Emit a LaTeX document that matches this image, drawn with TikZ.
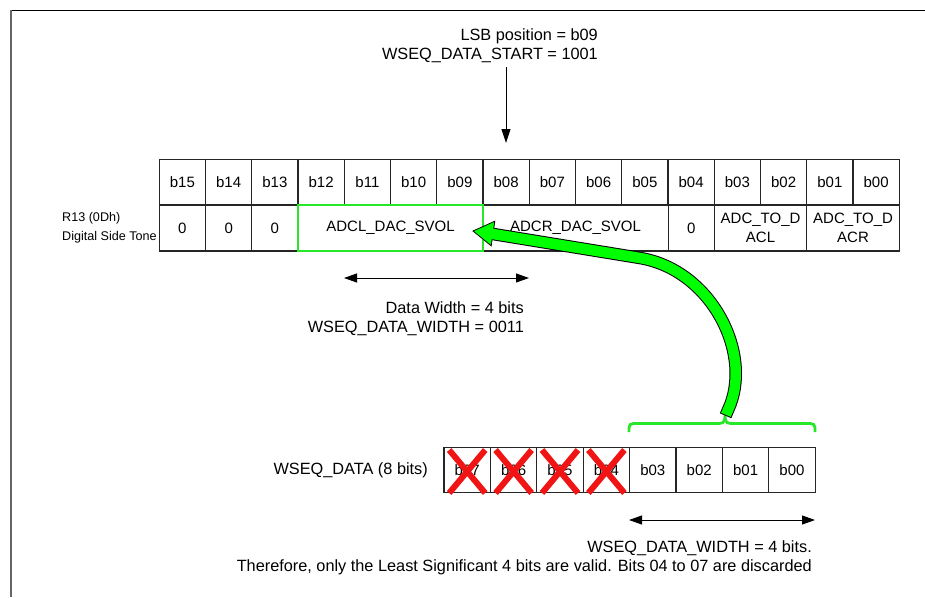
\documentclass[tikz,border=0pt]{standalone}
\usepackage{fontspec}
\setmainfont{Liberation Sans}
\usetikzlibrary{arrows.meta,calc}
\definecolor{lime}{RGB}{0,255,0}
\definecolor{limeline}{RGB}{40,230,40}
\definecolor{xred}{RGB}{240,20,20}
\begin{document}
\begin{tikzpicture}[x=1pt,y=-1pt,
  every node/.style={font=\fontsize{15}{19}\selectfont},
  cell/.style={draw=black!85, line width=1.1pt, minimum height=46pt, inner sep=0pt, align=center},
  lbl/.style={inner sep=0pt, font=\fontsize{16.3}{19}\selectfont},
  arr/.style={-{Triangle[length=14pt,width=9pt]}, line width=1pt},
  darr/.style={{Triangle[length=13pt,width=9pt]}-{Triangle[length=13pt,width=9pt]}, line width=1pt},
  xmark/.style={xred, line width=6pt},
  brace/.style={limeline, line width=2.8pt}]
\useasboundingbox (0,0) rectangle (925,597);
% frame
\draw[black, line width=1.5pt] (11,10.5) -- (925,10.5);
\draw[black!60, line width=2pt] (11,10) -- (11,597);

% top text and arrow
\node[lbl, anchor=east, align=right] (lsb) at (598,46) {LSB position = b09\\WSEQ\_DATA\_START = 1001};
\coordinate (lsbtip) at (506,143);
\draw[arr] ([yshift=-4pt]lsb.south -| lsbtip) -- (lsbtip);

% register row 1
\foreach \n [count=\k from 0] in {15,14,13,12,11,10,09,08,07,06,05,04,03,02,01,00}
  \node[cell, minimum width=46.25pt] (t\n) at ({182.4+46.25*\k},182.3) {b\n};
% register row 2
\node[cell, minimum width=46.25pt] (r15) at (182.4,228) {0};
\node[cell, minimum width=46.25pt] (r14) at (228.7,228) {0};
\node[cell, minimum width=46.25pt] (r13) at (274.9,228) {0};
\node[cell, minimum width=185pt] (adcr) at (575.55,228) {ADCR\_DAC\_SVOL};
\node[cell, minimum width=46.25pt] (r04) at (691.2,228) {0};
\node[cell, minimum width=92.5pt] (dacl) at (760.55,228) {ADC\_TO\_D\\ACL};
\node[cell, minimum width=92.5pt] (dacr) at (853.05,228) {ADC\_TO\_D\\ACR};
\node[cell, draw=limeline, line width=2pt, minimum width=185pt] (adcl) at (390.55,228) {ADCL\_DAC\_SVOL};

\node[inner sep=0pt, anchor=west, align=left, font=\fontsize{12.6}{19}\selectfont] (r13label) at (62,227.5) {R13 (0Dh)\\Digital Side Tone};

% data width arrow
\coordinate (dwL) at (344,278);
\coordinate (dwR) at (529,278);
\draw[darr] (dwL) -- (dwR);
\node[lbl, anchor=east, align=right] (dwtext) at (524,318.5) {Data Width = 4 bits\\WSEQ\_DATA\_WIDTH = 0011};

% WSEQ_DATA cells
\node[lbl, anchor=east] (wlabel) at (428,470) {WSEQ\_DATA (8 bits)};
\foreach \n [count=\k from 0] in {07,06,05,04,03,02,01,00}
  \node[cell, minimum width=46.4pt, minimum height=45.5pt] (w\n) at ({467.2+46.4*\k},470) {b\n};
\foreach \n in {07,06,05,04} {
  \draw[xmark] ($(w\n.center)+(-18,-20)$) -- ($(w\n.center)+(18,23)$);
  \draw[xmark] ($(w\n.center)+(18,-20)$) -- ($(w\n.center)+(-18,23)$);
}

% brace
\draw[brace] (629,432) .. controls (629,423.5) .. (639,423.5) -- (714,423.5)
  .. controls (724,423.5) .. (725,416.5) .. controls (726,423.5) .. (736,423.5)
  -- (805,423.5) .. controls (815,423.5) .. (815,432);

% green fat arrow
\coordinate (gstart) at (728,410);
\coordinate (gbend) at (640,258);
\coordinate (gbase) at (493,234);
\coordinate (gtip) at (473,231);
\draw[black, line width=12.5pt, line cap=rect] (gstart) .. controls (754,355) and (712,270) .. (gbend) -- (gbase);
\filldraw[fill=lime, draw=black, line width=0.8pt] (gtip) -- (494.8,221.2) -- (491.2,245.8) -- cycle;
\draw[lime, line width=10.5pt, line cap=rect] (gstart) .. controls (754,355) and (712,270) .. (gbend) -- (gbase);

% bottom arrow and text
\coordinate (bwL) at (629,520);
\coordinate (bwR) at (815,520);
\draw[darr] (bwL) -- (bwR);
\node[lbl, anchor=east, align=right] (btext) at (812,558) {WSEQ\_DATA\_WIDTH = 4 bits.\\Therefore, only the Least Significant 4 bits are valid. Bits 04 to 07 are discarded};
\end{tikzpicture}
\end{document}
